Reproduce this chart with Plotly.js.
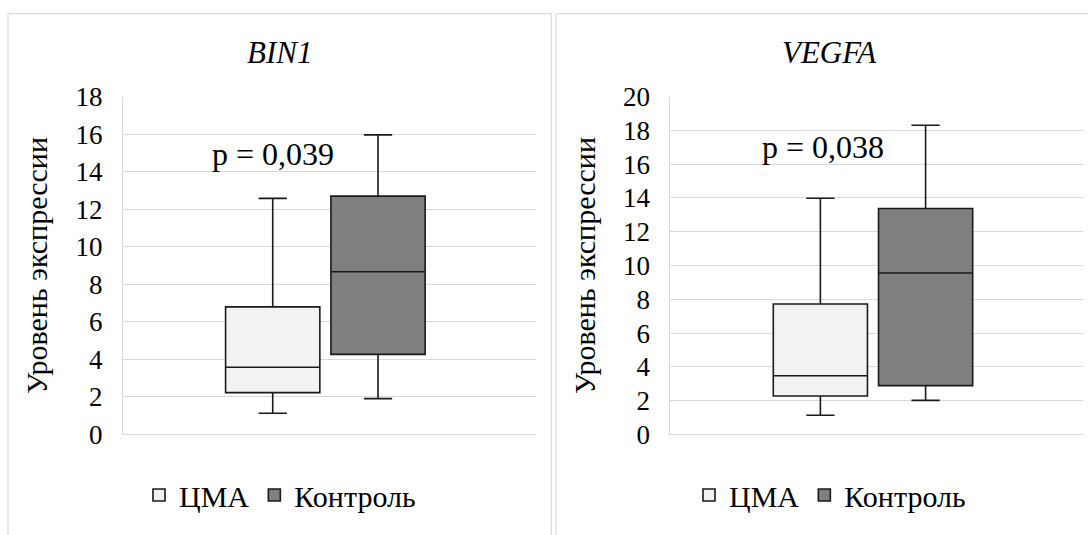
<!DOCTYPE html>
<html>
<head>
<meta charset="utf-8">
<script src="https://cdn.plot.ly/plotly-3.0.1.min.js"></script>
<style>
body{margin:0;background:#fff;font-family:'Liberation Serif',serif;}
</style>
</head>
<body>
<div id="chart" style="width:1088px;height:535px"></div>
<script>
// ---- data ----
const category = ['Уровень'];
const groups = ['ЦМА', 'Контроль'];
const groupColors = ['#f2f2f2', '#7f7f7f'];

// BIN1
const bin1_lower  = [1.13, 1.91];
const bin1_q1     = [2.23, 4.27];
const bin1_median = [3.58, 8.67];
const bin1_q3     = [6.80, 12.70];
const bin1_upper  = [12.58, 15.96];
const bin1_p = 'p = 0,039';

// VEGFA
const vegfa_lower  = [1.14, 2.02];
const vegfa_q1     = [2.28, 2.89];
const vegfa_median = [3.48, 9.56];
const vegfa_q3     = [7.72, 13.38];
const vegfa_upper  = [13.98, 18.30];
const vegfa_p = 'p = 0,038';

const panelTitles = ['BIN1', 'VEGFA'];
const yTitle = 'Уровень экспрессии';

// ---- build ----
const FONT = 'Liberation Serif';
const TXT = '#000000';
const GRID = '#d9d9d9';
const W = 1088, H = 535;

function mkTraces(lower, q1, med, q3, upper, xa, ya, leg, panel) {
  return groups.map((g, i) => ({
    type: 'box',
    name: g,
    x: category,
    q1: [q1[i]], median: [med[i]], q3: [q3[i]],
    lowerfence: [lower[i]], upperfence: [upper[i]],
    xaxis: xa, yaxis: ya,
    legend: leg,
    alignmentgroup: panel,
    offsetgroup: 'g' + i,
    fillcolor: groupColors[i],
    line: {color: '#1a1a1a', width: 1.6},
    whiskerwidth: 0.3,
    boxpoints: false,
    hoverinfo: 'y'
  }));
}

const traces = [].concat(
  mkTraces(bin1_lower, bin1_q1, bin1_median, bin1_q3, bin1_upper, 'x', 'y', 'legend', 'p1'),
  mkTraces(vegfa_lower, vegfa_q1, vegfa_median, vegfa_q3, vegfa_upper, 'x2', 'y2', 'legend2', 'p2')
);

const yDom = [1 - 434.5 / H, 1 - 96.6 / H];
function yAx(max, anchor) {
  return {
    domain: yDom, anchor: anchor, range: [0, max], dtick: 2,
    showgrid: true, gridcolor: GRID, gridwidth: 1.2,
    zeroline: true, zerolinecolor: GRID, zerolinewidth: 1.2,
    showline: true, linecolor: GRID, linewidth: 1.2,
    ticks: '', ticklabelstandoff: 14,
    tickfont: {family: FONT, size: 27, color: TXT},
    title: {text: yTitle, font: {family: FONT, size: 30, color: TXT}, standoff: 18},
    fixedrange: true
  };
}
function xAx(d0, d1, anchor, shift) {
  return {
    domain: [d0 / W, d1 / W], anchor: anchor, type: 'category',
    range: [-0.5 + shift, 0.5 + shift],
    showticklabels: false, showgrid: false, zeroline: false, showline: false,
    ticks: '', fixedrange: true
  };
}

function legendAt(xc) {
  return {
    orientation: 'h', x: xc / W, xanchor: 'center', y: 1 - 495 / H, yanchor: 'middle',
    font: {family: FONT, size: 30, color: TXT},
    bgcolor: 'rgba(0,0,0,0)'
  };
}

const layout = {
  width: W, height: H,
  margin: {l: 0, r: 0, t: 0, b: 0},
  font: {family: FONT, color: TXT},
  paper_bgcolor: '#ffffff', plot_bgcolor: '#ffffff',
  boxmode: 'group', boxgap: 0.49, boxgroupgap: 0.105,
  showlegend: true,
  xaxis: xAx(123, 536, 'y', 0.01),
  yaxis: yAx(18, 'x'),
  xaxis2: xAx(670.4, 1083, 'y2', 0.009),
  yaxis2: yAx(20, 'x2'),
  legend: legendAt(280),
  legend2: legendAt(830),
  shapes: [
    {type: 'rect', xref: 'paper', yref: 'paper', x0: 8 / W, x1: 551.5 / W, y0: -0.05, y1: 1 - 13.6 / H,
     line: {color: GRID, width: 1.2}, fillcolor: 'rgba(0,0,0,0)', layer: 'below'},
    {type: 'rect', xref: 'paper', yref: 'paper', x0: 556 / W, x1: 1.05, y0: -0.05, y1: 1 - 13.6 / H,
     line: {color: GRID, width: 1.2}, fillcolor: 'rgba(0,0,0,0)', layer: 'below'}
  ],
  annotations: [
    {xref: 'paper', yref: 'paper', x: 279.5 / W, y: 1 - 53 / H, xanchor: 'center', yanchor: 'middle',
     text: '<i>' + panelTitles[0] + '</i>', showarrow: false, font: {family: FONT, size: 31, color: TXT}},
    {xref: 'paper', yref: 'paper', x: 829.5 / W, y: 1 - 53 / H, xanchor: 'center', yanchor: 'middle',
     text: '<i>' + panelTitles[1] + '</i>', showarrow: false, font: {family: FONT, size: 31, color: TXT}},
    {xref: 'paper', yref: 'paper', x: 272.5 / W, y: 1 - 154 / H, xanchor: 'center', yanchor: 'middle',
     text: bin1_p, showarrow: false, font: {family: FONT, size: 32, color: TXT}},
    {xref: 'paper', yref: 'paper', x: 822.5 / W, y: 1 - 146.7 / H, xanchor: 'center', yanchor: 'middle',
     text: vegfa_p, showarrow: false, font: {family: FONT, size: 32, color: TXT}}
  ]
};

const config = {displayModeBar: false};
Plotly.newPlot('chart', traces, layout, config);

// make sure the serif face is resolved, then redraw with it
if (document.fonts && document.fonts.load) {
  Promise.all([
    document.fonts.load('27px "Liberation Serif"', 'p = 0,039 Уровень ЦМА'),
    document.fonts.load('italic 31px "Liberation Serif"', 'BIN1 VEGFA')
  ]).then(function () {
    Plotly.newPlot('chart', traces, layout, config);
  }).catch(function () {});
}
</script>
</body>
</html>
